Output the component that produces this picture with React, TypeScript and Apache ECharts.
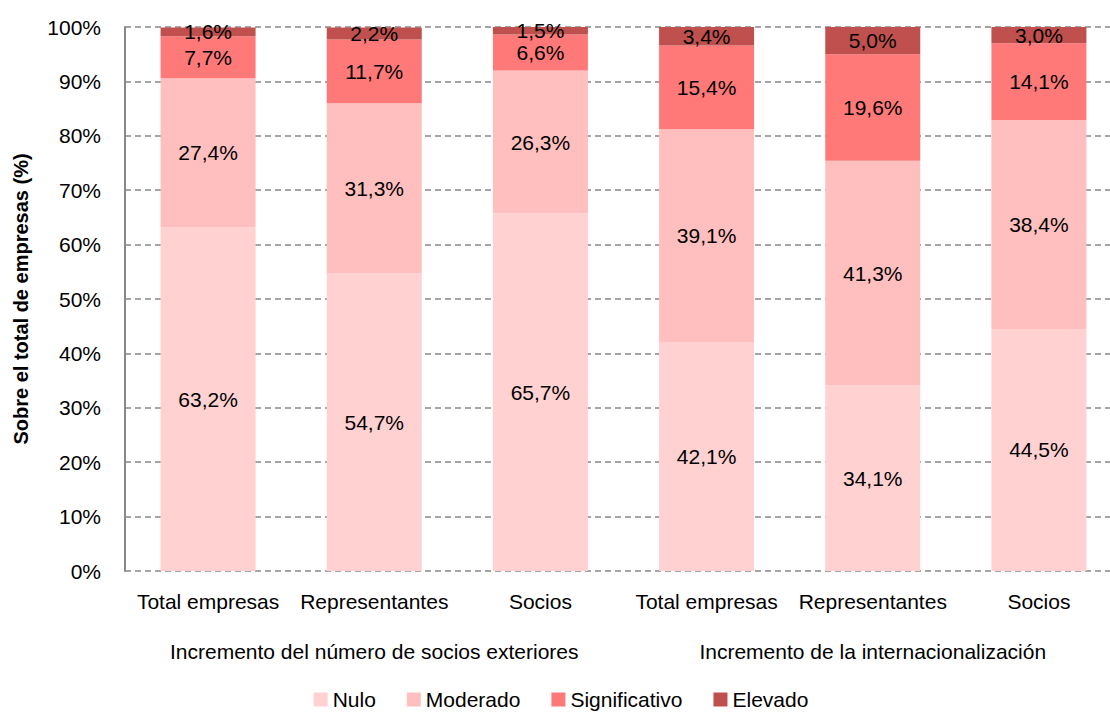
import React, { useEffect, useRef } from "react";
import * as echarts from "echarts";

const categories = ["Total empresas", "Representantes", "Socios", "Total empresas", "Representantes", "Socios"];
const groups = ["Incremento del número de socios exteriores", "Incremento de la internacionalización"];
const seriesNames = ["Nulo", "Moderado", "Significativo", "Elevado"];
const nulo = [63.2, 54.7, 65.7, 42.1, 34.1, 44.5];
const moderado = [27.4, 31.3, 26.3, 39.1, 41.3, 38.4];
const significativo = [7.7, 11.7, 6.6, 15.4, 19.6, 14.1];
const elevado = [1.6, 2.2, 1.5, 3.4, 5.0, 3.0];
const colors = ["#FFD1D1", "#FFBFBF", "#FF7979", "#C0504D"];

const FONT = "Liberation Sans, Arial, sans-serif";

export default function App() {
  const ref = useRef<HTMLDivElement>(null);
  useEffect(() => {
    const chart = echarts.init(ref.current!, null, { renderer: "svg" });
    const values = [nulo, moderado, significativo, elevado];
    chart.setOption({
      animation: false,
      textStyle: { fontFamily: FONT },
      grid: { left: 125, top: 27, right: 0, bottom: 144, outerBoundsMode: "none", containLabel: false },
      legend: {
        bottom: 0,
        left: "center",
        icon: "rect",
        itemWidth: 14,
        itemHeight: 14,
        itemGap: 31,
        textStyle: { fontSize: 21, color: "#000", fontFamily: FONT },
        data: seriesNames,
      },
      xAxis: [
        {
          type: "category",
          data: categories,
          axisLine: { show: false },
          axisTick: { show: false },
          axisLabel: { fontSize: 21, color: "#000", margin: 20, interval: 0 },
        },
        {
          type: "category",
          data: groups,
          position: "bottom",
          offset: 50,
          axisLine: { show: false },
          axisTick: { show: false },
          axisLabel: { fontSize: 21, color: "#000", margin: 20, interval: 0 },
        },
      ],
      yAxis: {
        type: "value",
        min: 0,
        max: 100,
        interval: 10,
        name: "Sobre el total de empresas (%)",
        nameLocation: "middle",
        nameGap: 94,
        nameTextStyle: { fontSize: 20, fontWeight: "bold", color: "#000", fontFamily: FONT },
        axisLine: { show: true, lineStyle: { color: "#888", width: 2 } },
        axisTick: { show: false },
        axisLabel: { formatter: "{value}%", fontSize: 21, color: "#000", margin: 24 },
        splitLine: { show: true, lineStyle: { color: "#888", type: [6, 4], width: 1.5 } },
      },
      series: seriesNames.map((name, i) => ({
        name,
        type: "bar",
        stack: "total",
        barWidth: 95,
        itemStyle: { color: colors[i] },
        label: {
          show: true,
          position: "inside",
          fontSize: 21,
          color: "#000",
          fontFamily: FONT,
          formatter: (p: any) => p.value.toFixed(1).replace(".", ",") + "%",
        },
        data: values[i],
      })),
    });
    return () => chart.dispose();
  }, []);
  return (
    <div style={{ position: "absolute", left: 0, top: 0, width: 1110, height: 715, overflow: "hidden" }}>
      <div ref={ref} style={{ width: 1122, height: 715 }} />
    </div>
  );
}
